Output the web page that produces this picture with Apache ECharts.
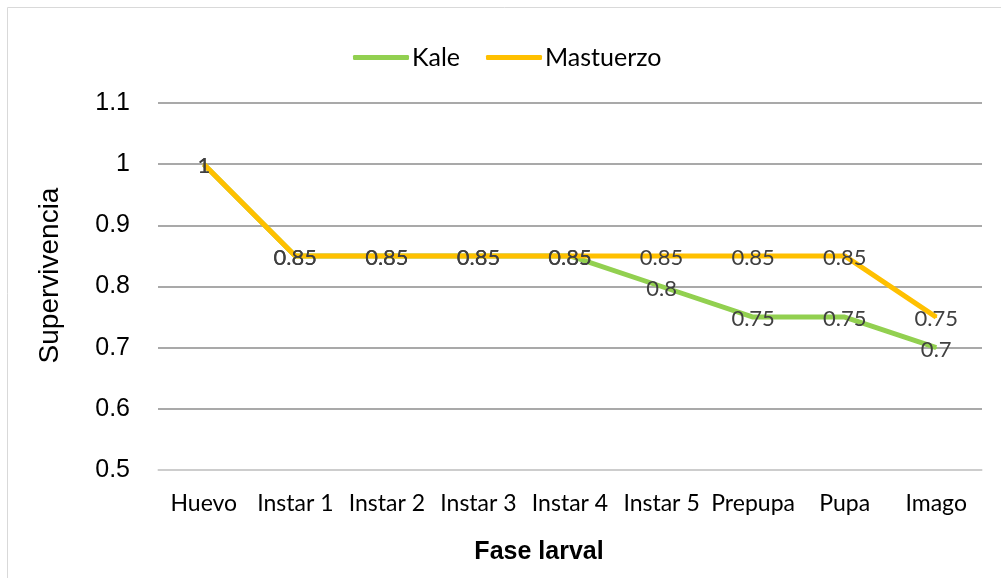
<!DOCTYPE html>
<html>
<head>
<meta charset="utf-8">
<script src="https://cdn.jsdelivr.net/npm/echarts@6/dist/echarts.min.js"></script>
<style>
  html, body { margin: 0; padding: 0; background: #fff; }
  #chart { width: 1001px; height: 578px; }
</style>
</head>
<body>
<div id="chart"></div>
<script>
const categories = ["Huevo", "Instar 1", "Instar 2", "Instar 3", "Instar 4", "Instar 5", "Prepupa", "Pupa", "Imago"];
const kale = [1, 0.85, 0.85, 0.85, 0.85, 0.8, 0.75, 0.75, 0.7];
const mastuerzo = [1, 0.85, 0.85, 0.85, 0.85, 0.85, 0.85, 0.85, 0.75];

const chart = echarts.init(document.getElementById("chart"));

const labelStyle = {
  show: true,
  position: "inside",
  offset: [0, 2],
  color: "#404040",
  fontFamily: "Lato",
  fontSize: 22,
};

const makeSeries = (name, data, color) => ({
  name: name,
  type: "line",
  data: data,
  symbol: "circle",
  symbolSize: 2,
  itemStyle: { color: color },
  lineStyle: { color: color, width: 5 },
  label: labelStyle,
  emphasis: { disabled: true },
});

const option = {
  animation: false,
  graphic: [
    {
      type: "rect",
      shape: { x: 7.5, y: 7.5, width: 1000, height: 580 },
      style: { fill: "none", stroke: "#d9d9d9", lineWidth: 1 },
    },
  ],
  title: {
    text: "Fase larval",
    left: 534,
    top: 535,
    textAlign: "center",
    textStyle: {
      fontFamily: "Liberation Sans",
      fontWeight: "bold",
      fontSize: 25,
      color: "#000",
    },
  },
  legend: {
    data: ["Kale", "Mastuerzo"],
    top: 40,
    left: 348,
    icon: "roundRect",
    itemWidth: 56,
    itemHeight: 5,
    itemGap: 26,
    textStyle: { fontFamily: "Lato", fontSize: 25, color: "#000", padding: [0, 0, 0, -2] },
  },
  grid: {
    left: 158,
    right: 19,
    top: 103,
    bottom: 108,
    containLabel: false,
  },
  xAxis: {
    type: "category",
    data: categories,
    boundaryGap: true,
    axisLine: { lineStyle: { color: "#d9d9d9", width: 1.5 } },
    axisTick: { show: false },
    axisLabel: {
      interval: 0,
      hideOverlap: false,
      color: "#000",
      fontFamily: "Lato",
      fontSize: 23,
      margin: 22,
    },
  },
  yAxis: {
    type: "value",
    min: 0.5,
    max: 1.1,
    interval: 0.1,
    name: "Supervivencia",
    nameLocation: "middle",
    nameGap: 94,
    nameTextStyle: {
      fontFamily: "Liberation Sans",
      fontSize: 28,
      color: "#000",
      padding: [0, 0, 0, 22],
    },
    axisLine: { show: false },
    axisTick: { show: false },
    axisLabel: {
      color: "#000",
      fontFamily: "Liberation Sans",
      fontSize: 25,
      margin: 28,
    },
    splitLine: { lineStyle: { color: "#8c8c8c", width: 1.5 } },
  },
  series: [makeSeries("Kale", kale, "#92D050"), makeSeries("Mastuerzo", mastuerzo, "#FFC000")],
};

chart.setOption(option);
</script>
</body>
</html>
